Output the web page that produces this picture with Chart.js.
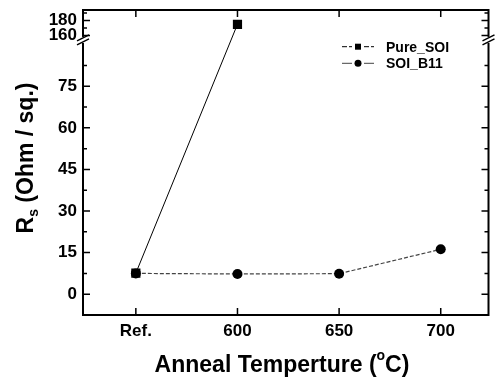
<!DOCTYPE html>
<html>
<head>
<meta charset="utf-8">
<script src="https://cdn.jsdelivr.net/npm/chart.js@4.4.1/dist/chart.umd.min.js"></script>
<style>
  body { margin: 0; background: #fff; }
  #wrap { width: 495px; height: 379px; position: relative; }
</style>
</head>
<body>
<div id="wrap"><canvas id="myChart"></canvas></div>
<script>
// data
const categories = ['Ref.', '600', '650', '700'];
const pureSOI = [7.6, 175, null, null];
const soiB11 = [7.5, 7.3, 7.4, 16.2];
const yTickValues = [0, 15, 30, 45, 60, 75, 160, 180];
const yTickLabels = ['0', '15', '30', '45', '60', '75', '160', '180'];
const yMinorValues = [7.5, 22.5, 37.5, 52.5, 67.5, 82.5, 170, 190];
const seriesNames = ['Pure_SOI', 'SOI_B11'];

// broken y axis: values above the break are squeezed
const BREAK_HIGH = 160, BREAK_T = 93.3, UPPER_SCALE = 0.27, BREAK_MARK = 91.7;
function toAxis(v) {
    return v >= BREAK_HIGH ? BREAK_T + (v - BREAK_HIGH) * UPPER_SCALE : v;
}

const FONT = "'Liberation Sans', Arial, sans-serif";

function points(values) {
    return values.map((v, i) => (v === null ? null : { x: i, y: toAxis(v) })).filter(p => p);
}

const frame = {
    id: 'frame',
    afterDraw(chart) {
        const { ctx, chartArea: a, scales: { x, y } } = chart;
        ctx.save();
        ctx.strokeStyle = '#000';
        ctx.lineWidth = 2;
        ctx.strokeRect(a.left, a.top, a.right - a.left, a.bottom - a.top);

        // inward ticks
        ctx.lineWidth = 1.5;
        ctx.beginPath();
        yTickValues.forEach(v => {
            const py = y.getPixelForValue(toAxis(v));
            ctx.moveTo(a.left, py); ctx.lineTo(a.left + 7, py);
            ctx.moveTo(a.right, py); ctx.lineTo(a.right - 7, py);
        });
        yMinorValues.forEach(v => {
            const py = y.getPixelForValue(toAxis(v));
            ctx.moveTo(a.left, py); ctx.lineTo(a.left + 4, py);
            ctx.moveTo(a.right, py); ctx.lineTo(a.right - 4, py);
        });
        categories.forEach((c, i) => {
            const px = x.getPixelForValue(i);
            ctx.moveTo(px, a.top); ctx.lineTo(px, a.top + 7);
            ctx.moveTo(px, a.bottom); ctx.lineTo(px, a.bottom - 7);
        });
        ctx.stroke();

        // break marks
        const by = y.getPixelForValue(BREAK_MARK);
        [a.left, a.right].forEach(bx => {
            ctx.fillStyle = '#fff';
            ctx.fillRect(bx - 2, by - 3, 4, 6);
            ctx.strokeStyle = '#000';
            ctx.lineWidth = 1.5;
            ctx.beginPath();
            ctx.moveTo(bx - 6, by + 1); ctx.lineTo(bx + 6, by - 5);
            ctx.moveTo(bx - 6, by + 5); ctx.lineTo(bx + 6, by - 1);
            ctx.stroke();
        });

        // legend
        const rows = [46.7, 63.3];
        ctx.font = 'bold 14px ' + FONT;
        ctx.textBaseline = 'middle';
        ctx.fillStyle = '#000';
        rows.forEach((ry, i) => {
            ctx.lineWidth = 1;
            ctx.setLineDash(i === 0 ? [5, 2] : []);
            ctx.strokeStyle = i === 0 ? '#000' : '#444';
            ctx.beginPath();
            ctx.moveTo(342, ry); ctx.lineTo(352, ry);
            ctx.moveTo(364, ry); ctx.lineTo(374, ry);
            ctx.stroke();
            ctx.setLineDash([]);
            if (i === 0) {
                ctx.fillRect(355, ry - 3, 6, 6);
            } else {
                ctx.beginPath();
                ctx.arc(358, ry, 3.5, 0, Math.PI * 2);
                ctx.fill();
            }
            ctx.fillText(seriesNames[i], 386, ry + 1);
        });

        // x title with superscript
        ctx.textBaseline = 'alphabetic';
        ctx.textAlign = 'left';
        const big = 'bold 23px ' + FONT, small = 'bold 14px ' + FONT;
        const t1 = 'Anneal Temperture (', t2 = 'o', t3 = 'C)';
        ctx.font = big; const w1 = ctx.measureText(t1).width, w3 = ctx.measureText(t3).width;
        ctx.font = small; const w2 = ctx.measureText(t2).width;
        let sx = 282 - (w1 + w2 + w3) / 2;
        ctx.font = big; ctx.fillText(t1, sx, 372); sx += w1;
        ctx.font = small; ctx.fillText(t2, sx, 360); sx += w2;
        ctx.font = big; ctx.fillText(t3, sx, 372);

        // y title with subscript
        ctx.translate(33, 158);
        ctx.rotate(-Math.PI / 2);
        const yb = 'bold 23px ' + FONT, ys = 'bold 14px ' + FONT;
        const u1 = 'R', u2 = 's', u3 = ' (Ohm / sq.)';
        ctx.font = yb; const v1 = ctx.measureText(u1).width, v3 = ctx.measureText(u3).width;
        ctx.font = ys; const v2 = ctx.measureText(u2).width;
        let tx = -(v1 + v2 + v3) / 2;
        ctx.font = yb; ctx.fillText(u1, tx, 0); tx += v1;
        ctx.font = ys; ctx.fillText(u2, tx, 5); tx += v2;
        ctx.font = yb; ctx.fillText(u3, tx, 0);
        ctx.restore();
    }
};

const ctx = document.getElementById('myChart').getContext('2d');
const myChart = new Chart(ctx, {
    type: 'line',
    data: {
        datasets: [{
            label: seriesNames[0],
            data: points(pureSOI),
            borderColor: '#000',
            borderWidth: 1,
            pointStyle: 'rect',
            pointRadius: 6.5,
            pointBackgroundColor: '#000',
            pointBorderWidth: 0
        }, {
            label: seriesNames[1],
            data: points(soiB11),
            borderColor: '#444',
            borderWidth: 1.2,
            borderDash: [4, 2],
            pointStyle: 'circle',
            pointRadius: 5,
            pointBackgroundColor: '#000',
            pointBorderWidth: 0
        }]
    },
    options: {
        responsive: true,
        maintainAspectRatio: false,
        animation: false,
        events: [],
        layout: { padding: { top: 10, right: 4, left: 0, bottom: 0 } },
        plugins: { legend: { display: false }, tooltip: { enabled: false } },
        scales: {
            x: {
                type: 'linear',
                min: -0.52,
                max: 3.47,
                afterBuildTicks: scale => { scale.ticks = categories.map((c, i) => ({ value: i })); },
                afterFit: scale => {
                    scale.height = 64;
                    scale.paddingLeft = 0; scale.paddingRight = 0;
                },
                ticks: {
                    callback: v => categories[v],
                    color: '#000',
                    font: { family: FONT, size: 17, weight: 'bold' },
                    padding: 6,
                    maxRotation: 0
                },
                grid: { display: false, drawTicks: false },
                border: { display: false }
            },
            y: {
                type: 'linear',
                min: -7.5,
                max: 102.5,
                afterBuildTicks: scale => { scale.ticks = yTickValues.map(v => ({ value: toAxis(v) })); },
                afterFit: scale => {
                    scale.width = 83;
                    scale.paddingTop = 0; scale.paddingBottom = 0;
                },
                ticks: {
                    callback: (v, i) => yTickLabels[i],
                    color: '#000',
                    font: { family: FONT, size: 17, weight: 'bold' },
                    padding: 6
                },
                grid: { display: false, drawTicks: false },
                border: { display: false }
            }
        }
    },
    plugins: [frame]
});
</script>
</body>
</html>
